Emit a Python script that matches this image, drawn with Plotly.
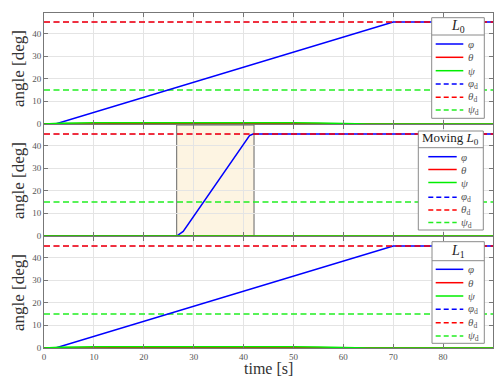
import plotly.graph_objects as go
from plotly.subplots import make_subplots

# ---------------- data ----------------
t_phi_L0 = [0, 2.3, 70, 90]
phi_L0 = [0, 0, 45, 45]
t_small = [0, 3, 10, 30, 50, 55, 60, 65, 90]
theta_L0 = [0, 0.05, 0.15, 0.2, 0.15, 0.1, 0.03, 0, 0]
psi_L0 = [0, 0.3, 0.6, 0.7, 0.6, 0.45, 0.2, 0.05, 0]

t_phi_mov = [0, 26.6, 27.9, 40.5, 41.2, 41.9, 90]
phi_mov = [0, 0, 2, 42.6, 44.3, 45, 45]
theta_mov = [0, 0, 0.02, 0.03, 0.02, 0.01, 0, 0, 0]
psi_mov = [0, 0, 0.05, 0.08, 0.06, 0.03, 0.01, 0, 0]

t_phi_L1 = [0, 2.3, 70, 90]
phi_L1 = [0, 0, 45, 45]
theta_L1 = [0, 0.05, 0.15, 0.2, 0.15, 0.1, 0.03, 0, 0]
psi_L1 = [0, 0.3, 0.6, 0.7, 0.6, 0.45, 0.2, 0.05, 0]

t_ref = [0, 90]
phi_d = [45, 45]
theta_d = [45, 45]
psi_d = [15, 15]

window_start = 26.6
window_end = 42.1

panel_titles = ["<i>L</i><sub>0</sub>", "Moving <i>L</i><sub>0</sub>", "<i>L</i><sub>1</sub>"]
entry_labels = ["<i>φ</i>", "<i>θ</i>", "<i>ψ</i>",
                "<i>φ</i><sub>d</sub>", "<i>θ</i><sub>d</sub>", "<i>ψ</i><sub>d</sub>"]
x_ticks = [0, 10, 20, 30, 40, 50, 60, 70, 80, 90]
y_ticks = [0, 10, 20, 30, 40]
x_title = "time [s]"
y_title = "angle [deg]"

BLUE = "#0000ff"
RED = "#ff0000"
GREEN = "#00ee00"
GREEN_D = "#22ee22"
DASH = "6px,3.5px"
LW = 1.5
SERIF = "Liberation Serif"

W, H = 497, 379
ML, MR, MT, MB = 44, 4, 13, 31
PW = W - ML - MR
PH = H - MT - MB

fig = make_subplots(rows=3, cols=1, shared_xaxes=True, vertical_spacing=0.003)

panels = [
    (t_phi_L0, phi_L0, theta_L0, psi_L0),
    (t_phi_mov, phi_mov, theta_mov, psi_mov),
    (t_phi_L1, phi_L1, theta_L1, psi_L1),
]

for i, (tp, ph, th, ps) in enumerate(panels):
    r = i + 1
    if i == 1:
        fig.add_shape(type="rect", xref="x2", yref="y2 domain",
                      x0=window_start, x1=window_end, y0=0, y1=1,
                      fillcolor="#fdf4e2", line=dict(color="#666666", width=1),
                      layer="below")
    fig.add_trace(go.Scatter(x=t_ref, y=phi_d, mode="lines", name="φd",
                             line=dict(color=BLUE, width=0.5, dash=DASH), showlegend=False), row=r, col=1)
    fig.add_trace(go.Scatter(x=t_ref, y=psi_d, mode="lines", name="ψd",
                             line=dict(color=GREEN_D, width=LW, dash=DASH), showlegend=False), row=r, col=1)
    fig.add_trace(go.Scatter(x=tp, y=ph, mode="lines", name="φ",
                             line=dict(color=BLUE, width=LW), showlegend=False), row=r, col=1)
    fig.add_trace(go.Scatter(x=t_small, y=th, mode="lines", name="θ",
                             line=dict(color=RED, width=LW), showlegend=False), row=r, col=1)
    fig.add_trace(go.Scatter(x=t_small, y=ps, mode="lines", name="ψ",
                             line=dict(color=GREEN, width=LW), showlegend=False), row=r, col=1)
    fig.add_trace(go.Scatter(x=t_ref, y=theta_d, mode="lines", name="θd",
                             line=dict(color=RED, width=LW, dash=DASH), showlegend=False), row=r, col=1)

axis_common = dict(showline=True, linecolor="#777777", linewidth=1, mirror="ticks",
                   ticks="inside", ticklen=4, tickcolor="#777777", automargin=False,
                   showgrid=True, gridcolor="#e4e4e4", gridwidth=1, zeroline=False,
                   tickfont=dict(family=SERIF, size=9, color="#555555"))

for r in range(1, 4):
    fig.update_xaxes(range=[0, 90], tickvals=x_ticks, showticklabels=(r == 3),
                     row=r, col=1, **axis_common)
    fig.update_yaxes(range=[0, 49], tickvals=y_ticks, row=r, col=1,
                     title=dict(text=y_title, standoff=3,
                                font=dict(family=SERIF, size=17, color="#333333")),
                     **axis_common)


def px2paper(x, y):
    return (x - ML) / PW, (H - MB - y) / PH


xt_x, xt_y = px2paper(268, 368.5)
fig.add_annotation(xref="paper", yref="paper", x=xt_x, y=xt_y, text=x_title, showarrow=False,
                   xanchor="center", yanchor="middle", borderpad=0,
                   font=dict(family=SERIF, size=16, color="#333333"))

# manual legend boxes (pixel layout)
legend_specs = [
    (431.7, 484.3, 17.7, 118.3, 26.5, 35.0, [44, 57.3, 70.7, 84, 97.3, 110], 435.7, 463.3, 465.5, 14),
    (418.3, 483.3, 131.0, 230.0, 138.8, 147.7, [156.7, 169.5, 182.5, 197.3, 210, 222.5], 428.3, 456.7, 458.5, 13),
    (432.0, 484.3, 241.7, 343.3, 251.5, 260.7, [269.3, 282.7, 296, 309.3, 322.7, 336], 435.7, 463.3, 465.5, 14),
]
entry_styles = [(BLUE, None), (RED, None), (GREEN, None),
                (BLUE, DASH), (RED, DASH), (GREEN_D, DASH)]

for k, (bx0, bx1, by0, by1, ty, sy, eys, sx0, sx1, lx, tsize) in enumerate(legend_specs):
    x0, y1p = px2paper(bx0, by0)
    x1, y0p = px2paper(bx1, by1)
    fig.add_shape(type="rect", xref="paper", yref="paper", x0=x0, x1=x1, y0=y0p, y1=y1p,
                  fillcolor="white", line=dict(color="#8a8a8a", width=1), layer="above")
    _, sp = px2paper(0, sy)
    fig.add_shape(type="line", xref="paper", yref="paper", x0=x0, x1=x1, y0=sp, y1=sp,
                  line=dict(color="#8a8a8a", width=1), layer="above")
    _, tp_ = px2paper(0, ty)
    fig.add_annotation(xref="paper", yref="paper", x=(x0 + x1) / 2, y=tp_, text=panel_titles[k],
                       showarrow=False, xanchor="center", yanchor="middle",
                       font=dict(family=SERIF, size=tsize, color="#222222"))
    for j, ey in enumerate(eys):
        color, dash = entry_styles[j]
        a, b = px2paper(sx0, ey)
        c, _ = px2paper(sx1, ey)
        ln = dict(color=color, width=LW)
        if dash:
            ln["dash"] = "5px,3px"
        fig.add_shape(type="line", xref="paper", yref="paper", x0=a, x1=c, y0=b, y1=b,
                      line=ln, layer="above")
        lxp, _ = px2paper(lx, ey)
        fig.add_annotation(xref="paper", yref="paper", x=lxp, y=b, text=entry_labels[j],
                           showarrow=False, xanchor="left", yanchor="middle",
                           font=dict(family=SERIF, size=11, color="#555555"))

fig.update_layout(width=W, height=H, margin=dict(l=ML, r=MR, t=MT, b=MB),
                  paper_bgcolor="white", plot_bgcolor="white", showlegend=False)

fig.write_html("out.html", config={"displayModeBar": False},
               post_script="document.body.style.margin='0px';document.body.style.overflow='hidden';")
